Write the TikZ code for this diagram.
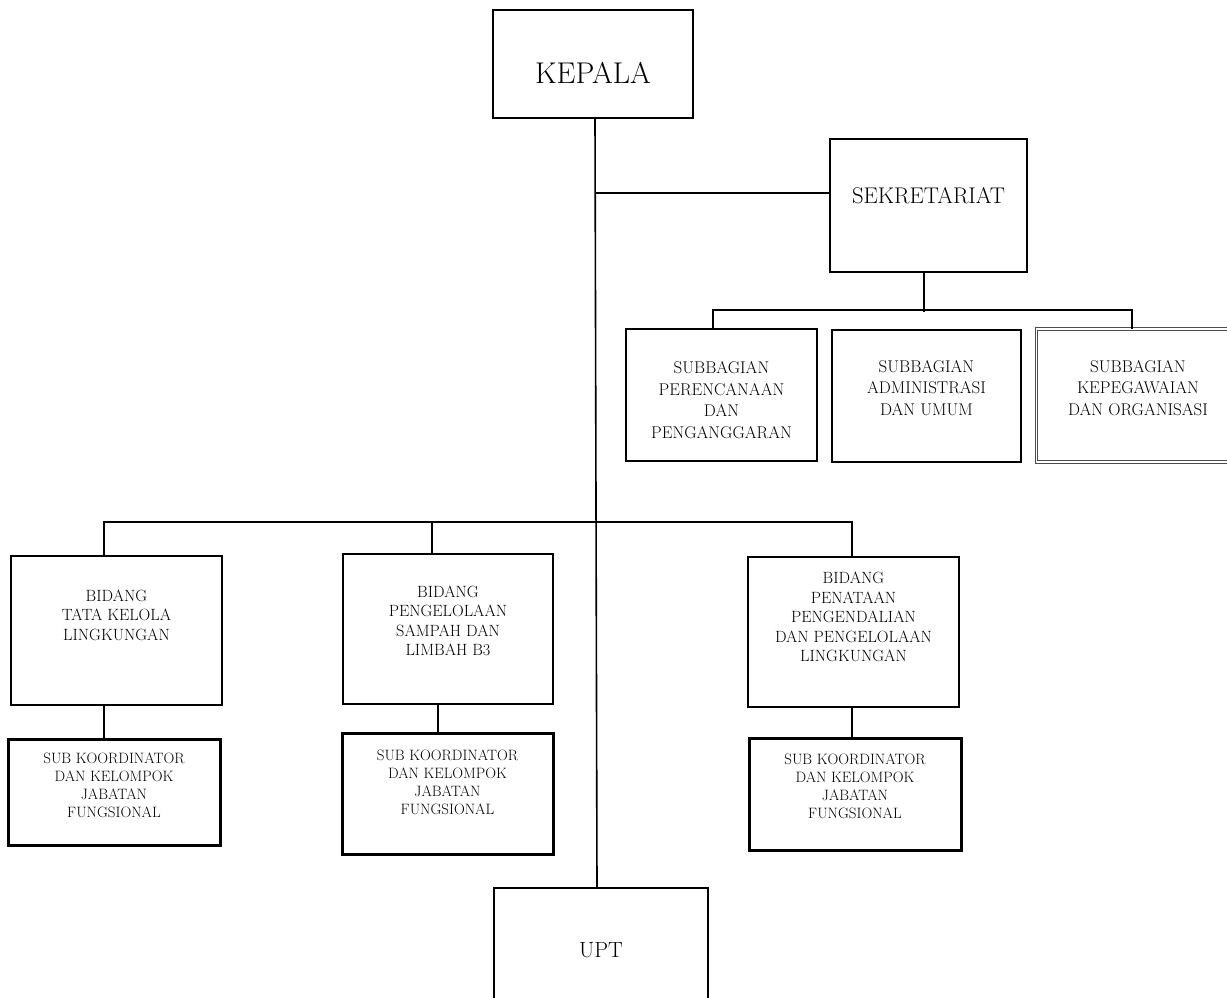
\documentclass[tikz,border=0pt]{standalone}
\usetikzlibrary{positioning}
\tikzset{
  box/.style={draw, line width=1.8pt, inner sep=0pt},
  heavybox/.style={draw, line width=3pt, inner sep=0pt},
  dblbox/.style={draw=black!70, double=white, double distance=1.6pt, line width=0.9pt, inner sep=0pt},
  link/.style={line width=1.6pt},
  subtxt/.style={align=center, font=\fontsize{17}{21.7}\selectfont},
  bidtxt/.style={align=center, font=\fontsize{16.3}{19.5}\selectfont},
  koortxt/.style={align=center, font=\fontsize{15}{18}\selectfont},
}

\begin{document}
\begin{tikzpicture}[x=1pt, y=-1pt]
  \useasboundingbox (0,0) rectangle (1227,997);

  % top
  \node[box, minimum width=200, minimum height=108,
    label={[yshift=-9pt, font=\fontsize{30}{34}\selectfont]center:KEPALA}] (kepala) at (593,64) {};
  \node[box, minimum width=197, minimum height=133,
    label={[yshift=9.5pt, font=\fontsize{22.7}{26}\selectfont]center:SEKRETARIAT}] (sek) at (928.5,205.5) {};

  % subbagian
  \node[box, minimum width=191, minimum height=132,
    label={[yshift=-5pt, subtxt]center:{SUBBAGIAN\\PERENCANAAN\\DAN\\PENGANGGARAN}}] (sp) at (721.5,395) {};
  \node[box, minimum width=189, minimum height=132,
    label={[yshift=8pt, subtxt]center:{SUBBAGIAN\\ADMINISTRASI\\DAN UMUM}}] (sa) at (926.5,396) {};
  \node[dblbox, minimum width=203, minimum height=133,
    label={[yshift=7.5pt, subtxt]center:{SUBBAGIAN\\KEPEGAWAIAN\\DAN ORGANISASI}}] (skp) at (1138,395.5) {};

  % bidang
  \node[box, minimum width=211, minimum height=149,
    label={[yshift=15.5pt, bidtxt]center:{BIDANG\\TATA KELOLA\\LINGKUNGAN}}] (btkl) at (116.5,630.5) {};
  \node[box, minimum width=210, minimum height=150,
    label={[yshift=8pt, bidtxt]center:{BIDANG\\PENGELOLAAN\\SAMPAH DAN\\LIMBAH B3}}] (bpsl) at (448,629) {};
  \node[box, minimum width=211, minimum height=150,
    label={[yshift=15pt, bidtxt]center:{BIDANG\\PENATAAN\\PENGENDALIAN\\DAN PENGELOLAAN\\LINGKUNGAN}}] (bppl) at (853.5,632) {};

  % sub koordinator
  \node[heavybox, minimum width=212, minimum height=106,
    label={[yshift=7pt, koortxt]center:{SUB KOORDINATOR\\DAN KELOMPOK\\JABATAN\\FUNGSIONAL}}] (koor1) at (114,792) {};
  \node[heavybox, minimum width=211, minimum height=121,
    label={[yshift=11.5pt, koortxt]center:{SUB KOORDINATOR\\DAN KELOMPOK\\JABATAN\\FUNGSIONAL}}] (koor2) at (447.5,793.5) {};
  \node[heavybox, minimum width=212, minimum height=112,
    label={[yshift=8pt, koortxt]center:{SUB KOORDINATOR\\DAN KELOMPOK\\JABATAN\\FUNGSIONAL}}] (koor3) at (855,794) {};

  \node[box, minimum width=214, minimum height=152,
    label={[yshift=14pt, font=\fontsize{22}{26}\selectfont]center:UPT}] (upt) at (601,964) {};

  % lines
  \draw[link] ([xshift=2pt]kepala.south) -- ([xshift=-4pt]upt.north);
  \draw[link] ([yshift=12.5pt]sek.west) -- ++(-234,0);
  \draw[link] ([xshift=-4.5pt]sek.south) -- ++(0,39);
  \draw[link] ([xshift=-8.5pt]sp.north) -- ++(0,-18) -| ([xshift=-6pt]skp.north);
  \draw[link] ([xshift=-12.5pt]btkl.north) -- ++(0,-33) -| ([xshift=-1.5pt]bppl.north);
  \draw[link] ([xshift=-16pt]bpsl.north) -- ++(0,-31);
  \draw[link] ([xshift=-12.5pt]btkl.south) -- ([xshift=-10pt]koor1.north);
  \draw[link] ([xshift=-10pt]bpsl.south) -- ([xshift=-9.5pt]koor2.north);
  \draw[link] ([xshift=-1.5pt]bppl.south) -- ([xshift=-3pt]koor3.north);
\end{tikzpicture}
\end{document}
